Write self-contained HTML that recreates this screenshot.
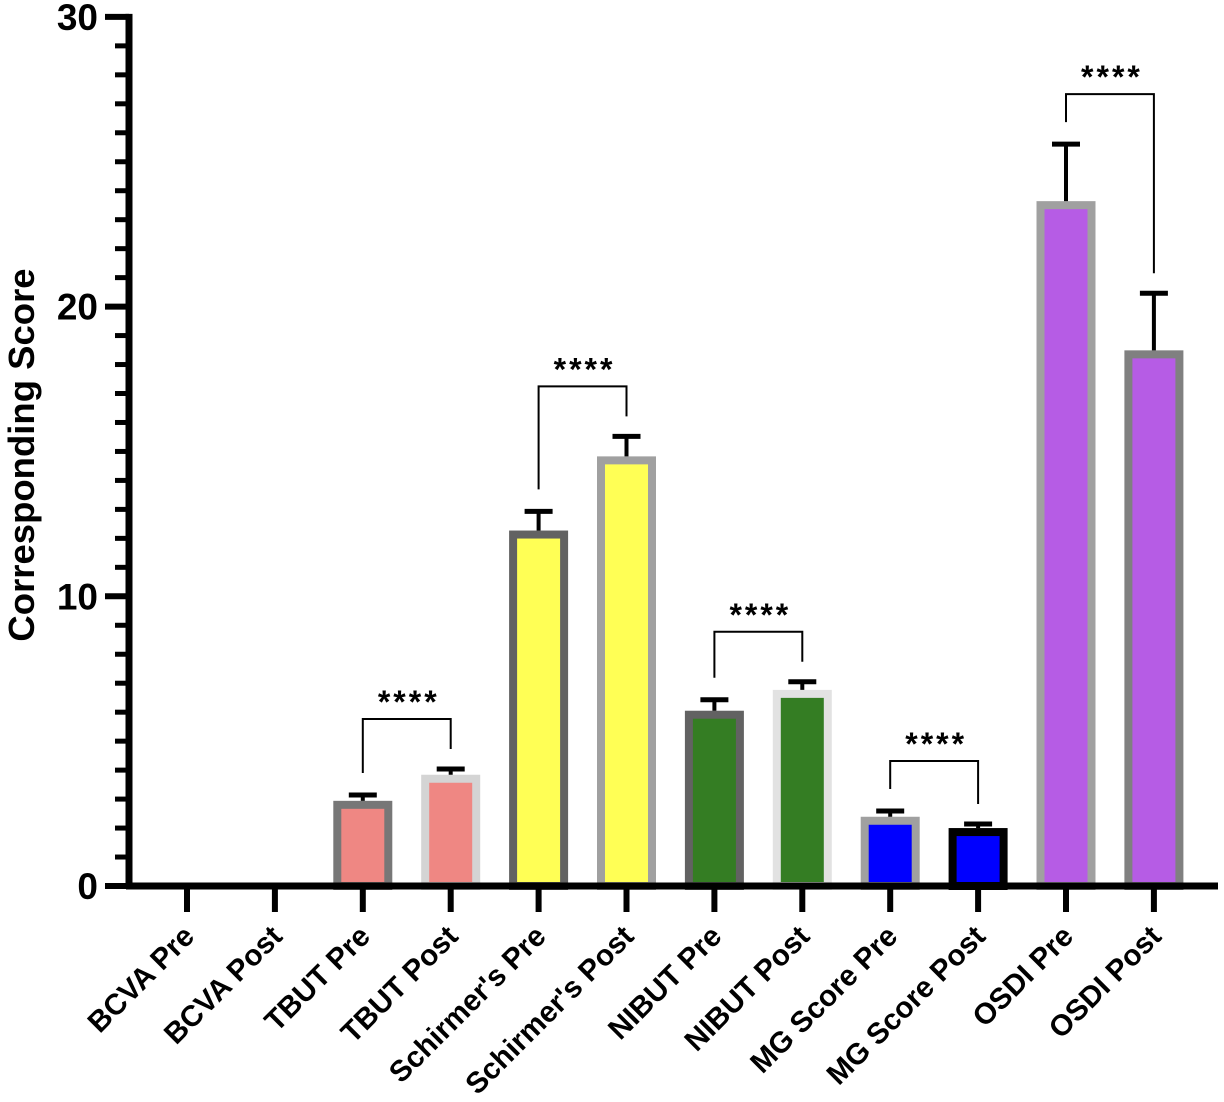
<!DOCTYPE html>
<html><head><meta charset="utf-8"><style>
body{margin:0;background:#fff}
svg{display:block;font-family:"Liberation Sans",Arial,sans-serif}
</style></head><body>
<svg width="1224" height="1102" viewBox="0 0 1224 1102" xmlns="http://www.w3.org/2000/svg">
<g id="plot"></g>
<text transform="translate(34,455) rotate(-90)" text-anchor="middle" font-size="36.5" font-weight="bold">Corresponding Score</text>
</svg>
<script>
const categories=["BCVA Pre","BCVA Post","TBUT Pre","TBUT Post","Schirmer's Pre","Schirmer's Post","NIBUT Pre","NIBUT Post","MG Score Pre","MG Score Post","OSDI Pre","OSDI Post"];
const means=[0.05,0.05,2.94,3.84,12.27,14.83,6.05,6.77,2.39,2.0,23.64,18.49];
const errors=[0,0,0.2,0.2,0.66,0.69,0.38,0.28,0.2,0.14,1.97,1.97];
const yTicks=[0,10,20,30];
const sigPairs=[[2,3],[4,5],[6,7],[8,9],[10,11]];
const sigLabels=["****","****","****","****","****"];
const fills=["#888","#888","#ef8783","#ef8783","#ffff55","#ffff55","#347d23","#347d23","#0000ff","#0000ff","#b65ce5","#b65ce5"];
const borders=["#888","#888","#777","#d4d4d4","#626262","#a0a0a0","#626262","#e2e2e2","#a0a0a0","#000","#a0a0a0","#808080"];

const NS="http://www.w3.org/2000/svg";
const g=document.getElementById('plot');
const y0=886,pxPerUnit=28.97,x0=187,step=87.9,axisX=129;
const y=v=>y0-v*pxPerUnit;
const x=i=>x0+i*step;
function mk(t,a){const e=document.createElementNS(NS,t);for(const k in a)e.setAttribute(k,a[k]);g.appendChild(e);return e;}

means.forEach((m,i)=>{
  const bw=59,bd=8,top=y(m);
  if(m>0.2){
    const r=mk('rect',{x:x(i)-bw/2+bd/2,y:top+bd/2,width:bw-bd,height:y0-top-bd/2,fill:fills[i],stroke:borders[i],'stroke-width':bd});
    
    
    const eTop=y(m+errors[i]);
    const l=mk('line',{x1:x(i),x2:x(i),y1:top,y2:eTop,stroke:'#000','stroke-width':4});
    
    
    const c=mk('line',{x1:x(i)-14,x2:x(i)+14,y1:eTop,y2:eTop,stroke:'#000','stroke-width':5});
    
    
  }
});
sigPairs.forEach((p,k)=>{
  const a=p[0],b=p[1];
  const ta=y(means[a]+errors[a]),tb=y(means[b]+errors[b]);
  const top=Math.min(ta,tb)-50;
  const path=mk('path',{d:`M${x(a)} ${ta-22}V${top}H${x(b)}V${tb-20}`,fill:'none',stroke:'#000','stroke-width':2});
  
  
  const t=mk('text',{x:(x(a)+x(b))/2+2,y:top-6,'text-anchor':'middle','font-size':32,'font-weight':'bold','letter-spacing':3});
  t.textContent=sigLabels[k];
  
  
});
const ya=mk('line',{x1:axisX,x2:axisX,y1:y(30)-3,y2:y0+3,stroke:'#000','stroke-width':7});


for(let v=0;v<=30;v++){
  const major=v%10===0;
  const tk=mk('line',{x1:major?105:115,x2:axisX,y1:y(v),y2:y(v),stroke:'#000','stroke-width':major?6:5});
  
  
}
yTicks.forEach(v=>{
  const t=mk('text',{x:98,y:y(v)+13,'text-anchor':'end','font-size':37,'font-weight':'bold'});
  t.textContent=v;
  
  
});
const xa=mk('line',{x1:axisX-3,x2:1218,y1:y0,y2:y0,stroke:'#000','stroke-width':7});


categories.forEach((c,i)=>{
  const tk=mk('line',{x1:x(i),x2:x(i),y1:y0,y2:912,stroke:'#000','stroke-width':6});
  
  
  const t=mk('text',{transform:`translate(${x(i)+9},${938}) rotate(-45)`,'text-anchor':'end','font-size':29.5,'font-weight':'bold'});
  t.textContent=c;
  
  
});
</script>
</body></html>
